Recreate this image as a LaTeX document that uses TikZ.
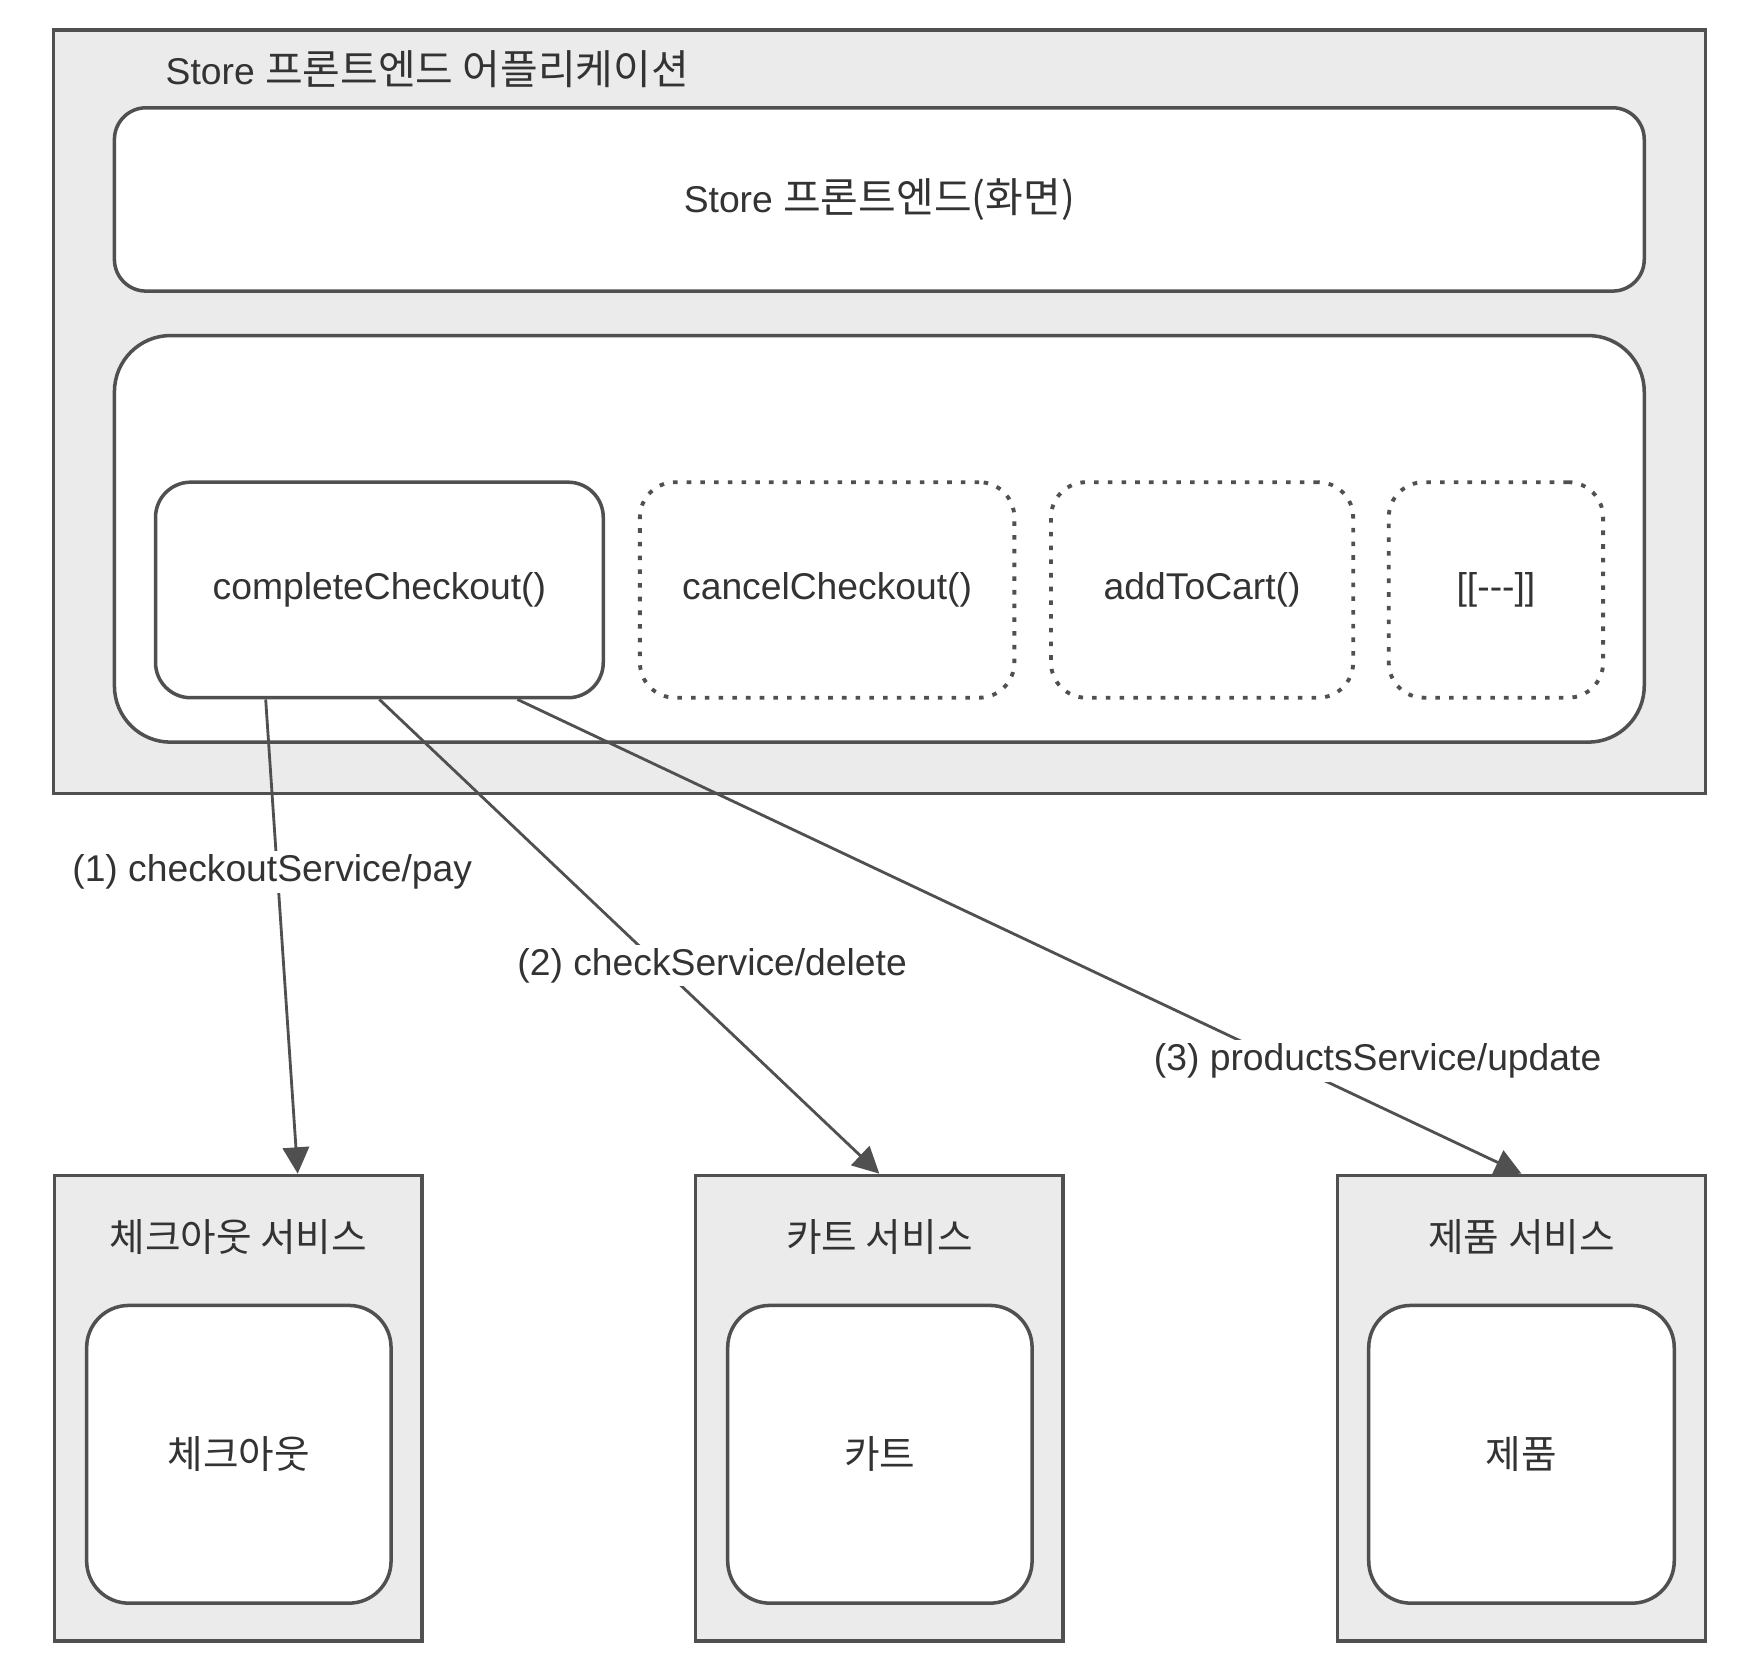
\documentclass[tikz,border=0pt]{standalone}
\usepackage{fontspec}
\setmainfont{Liberation Sans}
\newfontfamily\kr{Noto Sans CJK KR}[Scale=1.1]
\usetikzlibrary{calc,arrows.meta}
\definecolor{boxgray}{HTML}{EBEBEB}
\definecolor{linegray}{HTML}{505050}
\definecolor{textgray}{HTML}{333333}
\tikzset{
  sz/.style 2 args={minimum width=#1*0.01111cm, minimum height=#2*0.01111cm},
  outer/.style={draw=linegray, line width=1pt, fill=boxgray, inner sep=0pt},
  inner/.style={draw=linegray, line width=1pt, fill=white, inner sep=0pt},
  todo/.style={draw=linegray, line width=1.1pt, dash pattern=on 1.3pt off 2.6pt, fill=white, inner sep=0pt},
  call/.style={draw=linegray, line width=0.8pt, -{Triangle[length=7.5pt,width=7.5pt]}},
  lbl/.style={fill=white, inner sep=1pt}
}
\begin{document}
\begin{tikzpicture}[x=0.01111cm, y=-0.01111cm, font=\fontsize{10.6}{13}\selectfont, text=textgray]
\useasboundingbox (0,0) rectangle (1568,1505);

% Frontend application
\node[outer, sz={1487}{687}] (app) at (791.5,370.5) {};
\node[anchor=west] (apptitle) at (138,62) {Store {\kr 프론트엔드 어플리케이션}};
\node[inner, sz={1377}{165}, rounded corners=9pt] (screen) at (791.5,179.5) {Store {\kr 프론트엔드(화면)}};
\node[inner, sz={1377}{366}, rounded corners=16pt] (logic) at (791.5,485) {};

% Functions
\node[inner, sz={403}{194}, rounded corners=10pt] (cco) at (341.5,531) {completeCheckout()};
\node[todo, sz={337}{194}, rounded corners=10pt] (cancel) at (744.5,531) {cancelCheckout()};
\node[todo, sz={272}{194}, rounded corners=10pt] (add) at (1082,531) {addToCart()};
\node[todo, sz={193}{194}, rounded corners=10pt] (etc) at (1346.5,531) {[[{-}{-}{-}]]};

% Services
\node[outer, sz={331}{419}] (svc1) at (214.5,1267.5) {};
\node[outer, sz={331}{419}] (svc2) at (791.5,1267.5) {};
\node[outer, sz={331}{419}] (svc3) at (1369.5,1267.5) {};
\node[font=\kr] (svc1t) at (214.5,1113) {체크아웃 서비스};
\node[font=\kr] (svc2t) at (791.5,1113) {카트 서비스};
\node[font=\kr] (svc3t) at (1369.5,1113) {제품 서비스};
\node[inner, sz={274}{268}, rounded corners=12pt, font=\kr] (chk) at (215,1309) {체크아웃};
\node[inner, sz={274}{268}, rounded corners=12pt, font=\kr] (cart) at (792,1309) {카트};
\node[inner, sz={275}{268}, rounded corners=12pt, font=\kr] (prod) at (1369.5,1309) {제품};

% Calls
\draw[call] ($(cco.south west)!0.248!(cco.south east)$) -- ($(svc1.north west)!0.66!(svc1.north east)$);
\draw[call] (cco.south) -- (svc2.north);
\draw[call] ($(cco.south west)!0.806!(cco.south east)$) -- (svc3.north);

% Labels
\node[lbl] (l1) at (245,785) {(1) checkoutService/pay};
\node[lbl] (l2) at (641,869) {(2) checkService/delete};
\node[lbl] (l3) at (1240,955) {(3) productsService/update};
\end{tikzpicture}
\end{document}
